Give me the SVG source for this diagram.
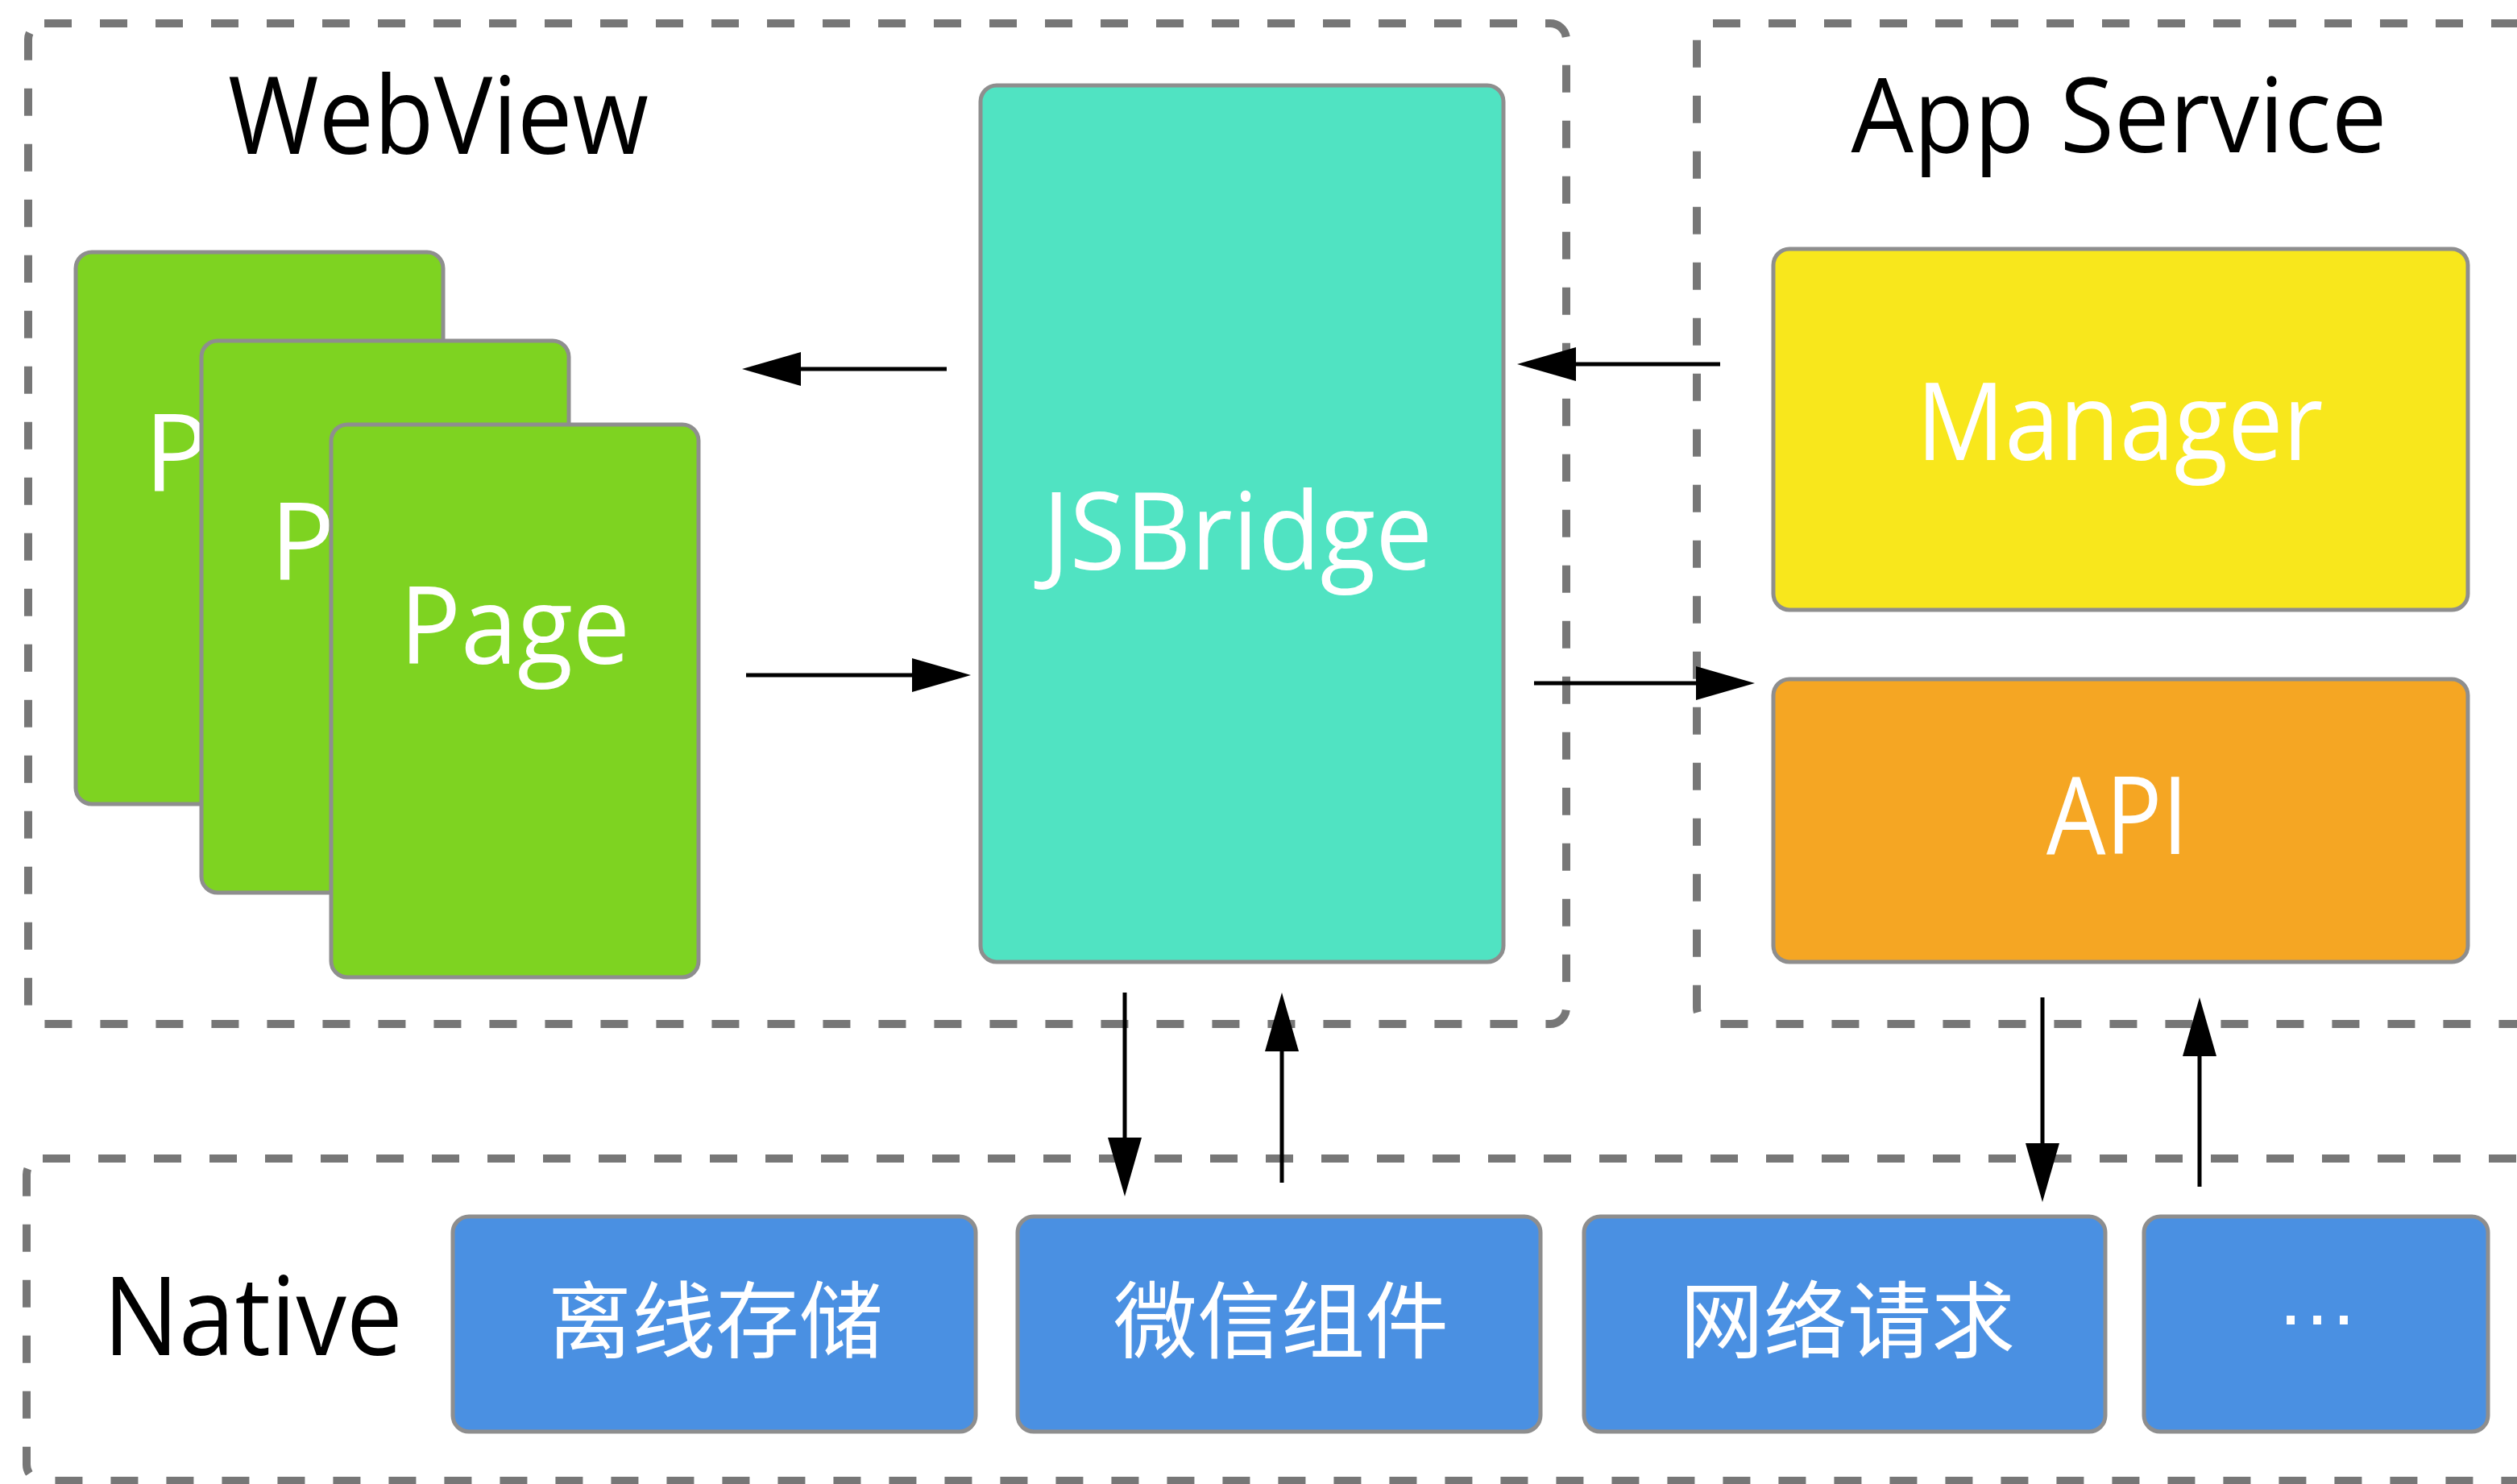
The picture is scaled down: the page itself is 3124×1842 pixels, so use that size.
<svg xmlns="http://www.w3.org/2000/svg" width="3124" height="1842" viewBox="0 0 3124 1842">
<style>
.container{fill:none;stroke:#777777;stroke-width:10;stroke-dasharray:34 35}
.node{stroke:#8E8E8E;stroke-width:5}
.page{fill:#7ED321}
.bridge{fill:#50E3C2}
.manager{fill:#F8E71C}
.api{fill:#F5A623}
.native{fill:#4A90E2}
.title{font-family:"Open Sans","Liberation Sans",sans-serif;font-weight:400;fill:#000000;text-anchor:middle}
.label{font-family:"Open Sans","Liberation Sans",sans-serif;font-weight:400;fill:#FFFFFF;text-anchor:middle}
.cjk{font-family:"Liberation Sans","Noto Sans CJK SC",sans-serif;font-size:104px;fill:#FFFFFF;text-anchor:middle}
.conn{stroke:#000000;stroke-width:5;fill:none;marker-end:url(#arrow)}
</style>
<defs>
<marker id="arrow" markerUnits="userSpaceOnUse" markerWidth="74" markerHeight="44" refX="0" refY="21" orient="auto">
<path d="M0,0 L73,21 L0,42 z" fill="#000000"/>
</marker>
</defs>
<rect width="3124" height="1842" fill="#FFFFFF"/>

<g id="webview">
<rect class="container" x="35" y="29" width="1909" height="1242" rx="20"/>
<text class="title" x="544" y="191" font-size="134" textLength="522" lengthAdjust="spacingAndGlyphs">WebView</text>
</g>
<g id="appservice">
<rect class="container" x="2106" y="29" width="1120" height="1242" rx="20"/>
<text class="title" x="2630" y="189" font-size="128" textLength="665" lengthAdjust="spacingAndGlyphs">App Service</text>
</g>
<g id="native">
<rect class="container" x="33" y="1438" width="3200" height="400" rx="20"/>
<text class="title" x="314" y="1682" font-size="135" textLength="372" lengthAdjust="spacingAndGlyphs">Native</text>
</g>

<g id="page1">
<rect class="node page" x="94" y="313" width="456" height="685" rx="20"/>
<text class="label" x="179" y="610" font-size="134" style="text-anchor:start">P</text>
</g>
<g id="page2">
<rect class="node page" x="250" y="423" width="456" height="685" rx="20"/>
<text class="label" x="335" y="720" font-size="134" style="text-anchor:start">P</text>
</g>
<g id="page3">
<rect class="node page" x="411" y="527" width="456" height="686" rx="20"/>
<text class="label" x="639" y="824" font-size="134" textLength="286" lengthAdjust="spacingAndGlyphs">Page</text>
</g>

<g id="jsbridge">
<rect class="node bridge" x="1217" y="106" width="649" height="1088" rx="20"/>
<text class="label" x="1536" y="707" font-size="133" textLength="484" lengthAdjust="spacingAndGlyphs">JSBridge</text>
</g>
<g id="manager">
<rect class="node manager" x="2201" y="309" width="862" height="448" rx="20"/>
<text class="label" x="2631" y="571" font-size="133" textLength="505" lengthAdjust="spacingAndGlyphs">Manager</text>
</g>
<g id="api">
<rect class="node api" x="2201" y="843" width="862" height="351" rx="20"/>
<text class="label" x="2628" y="1060" font-size="133" textLength="176" lengthAdjust="spacingAndGlyphs">API</text>
</g>

<g id="offline-storage">
<rect class="node native" x="562" y="1510" width="649" height="267" rx="20"/>
<text class="cjk" x="888" y="1678">离线存储</text>
</g>
<g id="wechat-component">
<rect class="node native" x="1263" y="1510" width="649" height="267" rx="20"/>
<text class="cjk" x="1590" y="1678">微信组件</text>
</g>
<g id="network-request">
<rect class="node native" x="1966" y="1510" width="647" height="267" rx="20"/>
<text class="cjk" x="2293" y="1678">网络请求</text>
</g>
<g id="more">
<rect class="node native" x="2661" y="1510" width="427" height="267" rx="20"/>
<text class="label" x="2876" y="1644" font-size="104" style="font-family:'Liberation Sans',sans-serif">…</text>
</g>

<g id="connectors">
<line class="conn" x1="1175" y1="458" x2="994" y2="458"/>
<line class="conn" x1="926" y1="838" x2="1132" y2="838"/>
<line class="conn" x1="2135" y1="452" x2="1956" y2="452"/>
<line class="conn" x1="1904" y1="848" x2="2105" y2="848"/>
<line class="conn" x1="1396" y1="1232" x2="1396" y2="1412"/>
<line class="conn" x1="1591" y1="1468" x2="1591" y2="1305"/>
<line class="conn" x1="2535" y1="1238" x2="2535" y2="1419"/>
<line class="conn" x1="2730" y1="1473" x2="2730" y2="1311"/>
</g>
</svg>
